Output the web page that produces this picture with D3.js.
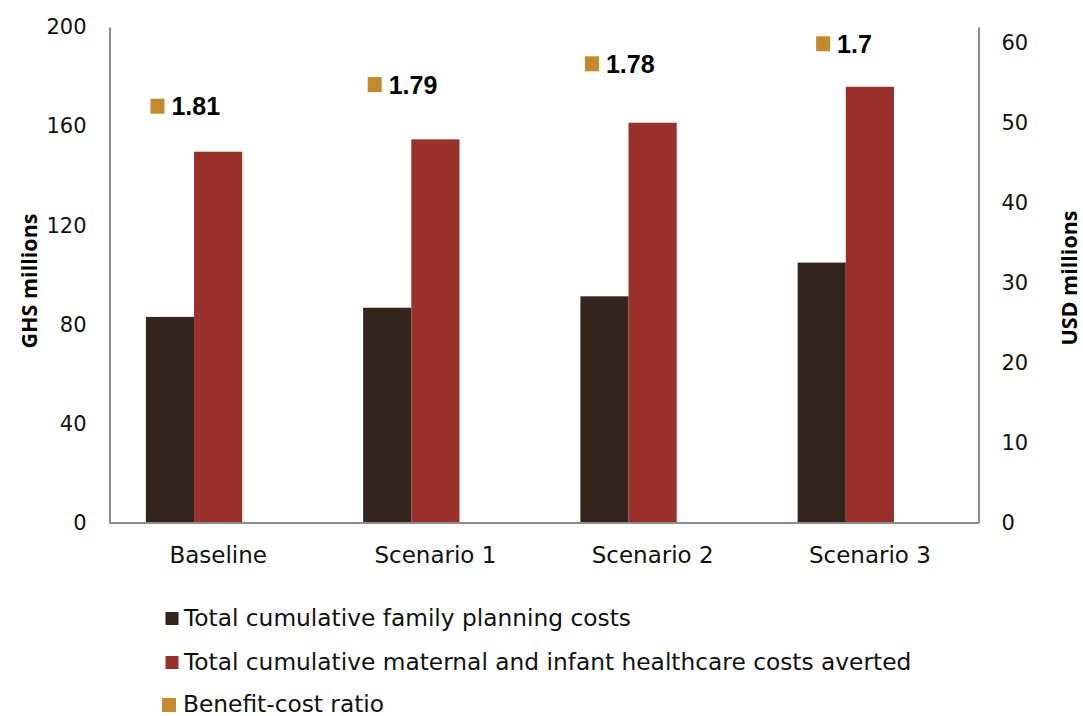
<!DOCTYPE html>
<html><head><meta charset="utf-8">
<script src="https://cdn.jsdelivr.net/npm/d3@7"></script>
<style>body{margin:0;background:#fff}svg{display:block}</style>
</head><body><svg id="c" width="1083" height="716"></svg>
<script>
const categories = ["Baseline", "Scenario 1", "Scenario 2", "Scenario 3"];
const fpCosts = [83.1, 86.8, 91.4, 105.0];          // GHS millions
const averted = [149.7, 154.7, 161.4, 175.9];       // GHS millions
const bcRatio = [1.81, 1.79, 1.78, 1.7];
const bcLabelPos = [52.1, 54.8, 57.4, 59.9];        // label height on USD axis
const leftTicks = [0, 40, 80, 120, 160, 200];
const rightTicks = [0, 10, 20, 30, 40, 50, 60];
const seriesNames = ["Total cumulative family planning costs",
  "Total cumulative maternal and infant healthcare costs averted",
  "Benefit-cost ratio"];
const colors = ["#33251c", "#99312a", "#c4892a"];

const svg = d3.select("#c");
const font = "'DejaVu Sans', sans-serif";
const L = 109.5, R = 978.5, T = 27, B = 523;
const x = d3.scaleBand().domain(categories).range([L, R]).paddingInner(0.335).paddingOuter(0.1675);
const slot = x.bandwidth() / 3;
const yL = d3.scaleLinear().domain([0, 200]).range([B, T]);
const yR = d3.scaleLinear().domain([0, 62]).range([B, T]);

// bars
const g = svg.append("g");
[fpCosts, averted].forEach((arr, si) => {
  g.selectAll(null).data(arr).enter().append("rect")
    .attr("x", (d, i) => x(categories[i]) + si * slot)
    .attr("y", d => yL(d))
    .attr("width", slot)
    .attr("height", d => B - yL(d))
    .attr("fill", colors[si]);
});

// axes
const axL = d3.axisLeft(yL).tickValues(leftTicks).tickSize(0).tickPadding(23);
const gl = svg.append("g").attr("transform", `translate(${L},0)`).call(axL);
const axR = d3.axisRight(yR).tickValues(rightTicks).tickSize(0).tickPadding(23);
const gr = svg.append("g").attr("transform", `translate(${R},0)`).call(axR);
const axB = d3.axisBottom(x).tickSize(0).tickPadding(23);
const gb = svg.append("g").attr("transform", `translate(0,${B})`).call(axB);
[gl, gr, gb].forEach(a => {
  a.select(".domain").attr("stroke", "#8c8c8c").attr("stroke-width", 2);
  a.selectAll("text").attr("font-family", font).attr("font-size", 21).attr("fill", "#111");
});
gb.selectAll("text").attr("font-size", 23).attr("dy", 0).attr("y", 40);
gb.select(".domain").attr("d", `M${L},0H${R}`);

// axis titles
svg.append("text").attr("transform", `translate(37,281) rotate(-90)`)
  .attr("text-anchor", "middle").attr("font-family", "'Open Sans', sans-serif")
  .attr("font-weight", "bold").attr("font-size", 21.5).attr("fill", "#000").text("GHS millions");
svg.append("text").attr("transform", `translate(1077,278) rotate(-90)`)
  .attr("text-anchor", "middle").attr("font-family", "'Open Sans', sans-serif")
  .attr("font-weight", "bold").attr("font-size", 21.5).attr("fill", "#000").text("USD millions");

// benefit-cost labels with legend key
bcRatio.forEach((v, i) => {
  const cx = x(categories[i]) + x.bandwidth() / 2 + 2;
  const cy = yR(bcLabelPos[i]);
  const t = svg.append("text").attr("x", cx).attr("y", cy + 9)
    .attr("text-anchor", "end").attr("font-family", "'Liberation Sans', Arial, sans-serif").attr("font-weight", "bold")
    .attr("font-size", 25).attr("fill", "#000").text(v);
  const w = t.node().getComputedTextLength();
  svg.append("rect").attr("x", cx - w - 7 - 14).attr("y", cy - 7.5)
    .attr("width", 14).attr("height", 15).attr("fill", colors[2]);
});

// legend
const legY = [626, 670, 712];
seriesNames.forEach((n, i) => {
  const s = i === 2 ? 14 : 13;
  const lx = i === 2 ? 162 : 165.5;
  svg.append("rect").attr("x", lx).attr("y", legY[i] - 14).attr("width", s).attr("height", s).attr("fill", colors[i]);
  svg.append("text").attr("x", i === 2 ? 183 : 184).attr("y", legY[i])
    .attr("font-family", font).attr("font-size", 23.3).attr("fill", "#111").text(n);
});
</script></body></html>
